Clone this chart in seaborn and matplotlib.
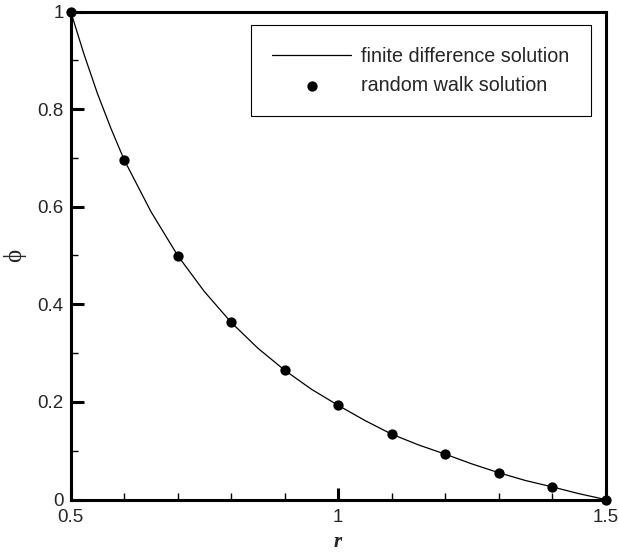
import numpy as np
import pandas as pd
import seaborn as sns
import matplotlib.pyplot as plt
from matplotlib.ticker import MultipleLocator

# finite difference curve
r_fd = [0.5, 0.525, 0.55, 0.575, 0.6, 0.65, 0.7, 0.75, 0.8, 0.85, 0.9, 0.95, 1.0,
        1.05, 1.1, 1.15, 1.2, 1.25, 1.3, 1.35, 1.4, 1.45, 1.5]
phi_fd = [1.0, 0.912, 0.832, 0.761, 0.696, 0.59, 0.5, 0.426, 0.363, 0.31, 0.265,
          0.226, 0.193, 0.162, 0.134, 0.112, 0.093, 0.073, 0.055, 0.039, 0.026,
          0.012, 0.0]

# random walk points
r_rw = [0.5, 0.6, 0.7, 0.8, 0.9, 1.0, 1.1, 1.2, 1.3, 1.4, 1.5]
phi_rw = [1.0, 0.696, 0.5, 0.363, 0.265, 0.193, 0.134, 0.093, 0.055, 0.026, 0.0]

fd = pd.DataFrame({'r': r_fd, 'phi': phi_fd})
rw = pd.DataFrame({'r': r_rw, 'phi': phi_rw})

sns.set_style('ticks')
plt.rcParams['font.family'] = ['Liberation Sans', 'DejaVu Sans']

fig = plt.figure(figsize=(6.19, 5.52), dpi=100)
ax = fig.add_axes([70.7 / 619, 1 - 499.5 / 552, 534.8 / 619, 488 / 552])

sns.lineplot(data=fd, x='r', y='phi', color='black', linewidth=0.9,
             label='finite difference solution', ax=ax)
sns.scatterplot(data=rw, x='r', y='phi', color='black', s=55, edgecolor='black',
                linewidth=0, label='random walk solution', ax=ax, clip_on=False, zorder=5)

ax.set_xlim(0.5, 1.5)
ax.set_ylim(0, 1)
ax.xaxis.set_minor_locator(MultipleLocator(0.1))
ax.yaxis.set_minor_locator(MultipleLocator(0.1))
ax.set_xticks([0.5, 1.0, 1.5])
ax.set_xticklabels(['0.5', '1', '1.5'])
ax.set_yticks([0, 0.2, 0.4, 0.6, 0.8, 1.0])
ax.set_yticklabels(['0', '0.2', '0.4', '0.6', '0.8', '1'])

ax.tick_params(which='major', direction='in', length=9, width=2.2, labelsize=13.5,
               color='black')
ax.tick_params(axis='x', which='major', pad=7)
ax.tick_params(axis='y', which='major', pad=5)
ax.tick_params(which='minor', direction='in', length=5, width=1, color='black')
for sp in ax.spines.values():
    sp.set_linewidth(2.2)
    sp.set_color('black')
    sp.set_visible(True)

ax.set_xlabel('r', family=['Liberation Serif', 'DejaVu Serif'], fontweight='bold',
              fontstyle='italic', fontsize=15, labelpad=4)
ax.set_ylabel('\u03d5', family=['Liberation Serif', 'DejaVu Serif'], fontsize=18,
              labelpad=8)

leg = ax.legend(loc='upper right', bbox_to_anchor=(0.973, 0.972), borderaxespad=0,
                fontsize=14.2, handlelength=4.0, handletextpad=0.5, borderpad=1.1,
                labelspacing=0.5, fancybox=False, framealpha=1, edgecolor='black')
leg.get_frame().set_linewidth(0.8)

fig.savefig('out.png', dpi=100)
